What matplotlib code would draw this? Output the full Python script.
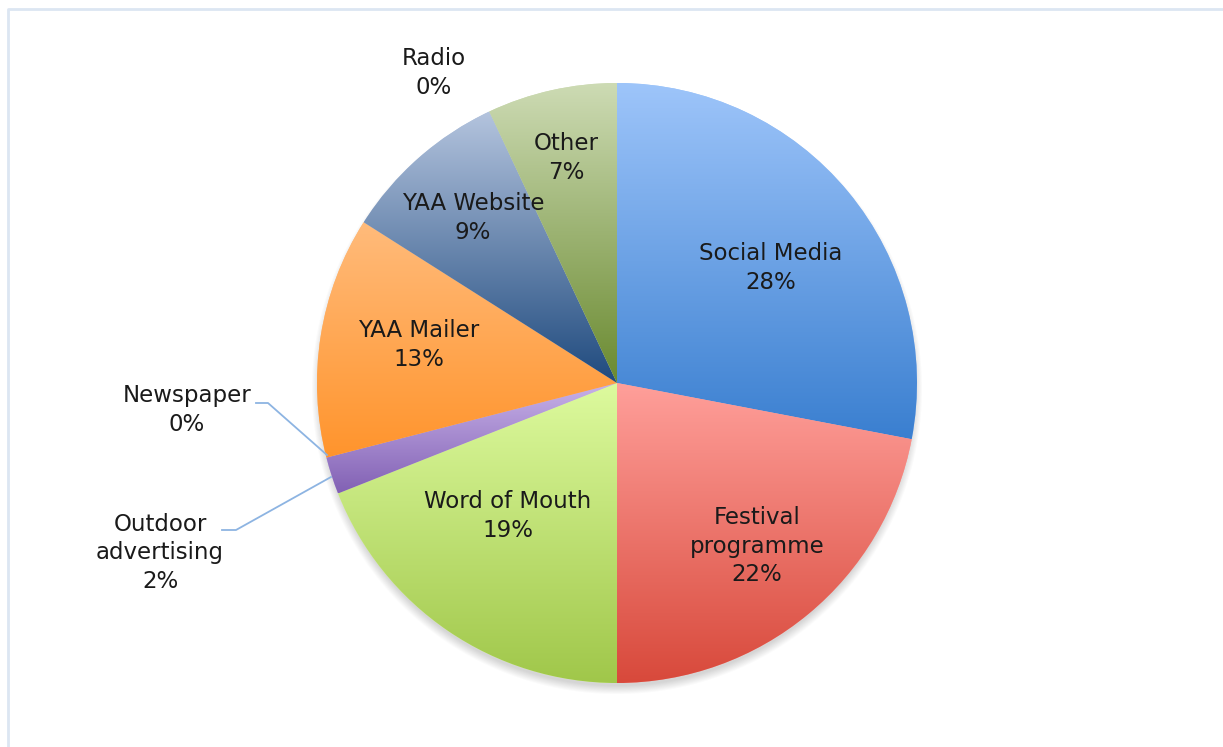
import numpy as np
import matplotlib.pyplot as plt
from matplotlib.colors import LinearSegmentedColormap

# ---------------- Data ----------------
labels = ["Social Media", "Festival\nprogramme", "Word of Mouth", "Outdoor\nadvertising",
          "Newspaper", "YAA Mailer", "YAA Website", "Radio", "Other"]
shares = [28, 22, 19, 2, 0, 13, 9, 0, 7]

# gradient colours per slice (light top -> dark bottom)
top_colors = ["#9ec5fa", "#ff9f9a", "#ddfa9e", "#c8b2e9", "#93d8ea",
              "#ffbb7b", "#b4c4de", "#f2b8d8", "#cddbb4"]
bottom_colors = ["#3a7fd0", "#d8493b", "#a0c74a", "#8261b4", "#2f9ec0",
                 "#ff942c", "#1f4a7e", "#c0508a", "#6a8a30"]

# label centres in pixel coords (y measured from the top)
label_xy = [(771, 268), (757, 546), (508, 516), (160, 553), (187, 410),
            (419, 345), (473, 218), (434, 73), (566, 158)]

W, H = 1223, 747
CX, CY, R = 617, H - 383, 300

plt.rcParams.update({"font.family": "DejaVu Sans"})

fig = plt.figure(figsize=(W / 100, H / 100), dpi=100)
ax = fig.add_axes([0, 0, 1, 1])

# soft drop shadow under the pie, mostly showing along the bottom edge
gx, gy = np.meshgrid(np.arange(CX - R - 20, CX + R + 20),
                     np.arange(CY - R - 25, CY + R + 20))
d = np.hypot(gx - CX, gy - (CY - 6))
alpha = np.clip(1 - (d - R + 3) / 9, 0, 1) * 0.3
shadow = np.zeros(gx.shape + (4,))
shadow[..., :3] = 0.45
shadow[..., 3] = alpha
ax.imshow(shadow, extent=(gx.min(), gx.max(), gy.min(), gy.max()),
          origin="lower", zorder=0.5, interpolation="bilinear")

wedges, _ = ax.pie(shares, center=(CX, CY), radius=R, startangle=90,
                   counterclock=False, colors=top_colors,
                   wedgeprops=dict(linewidth=0))

# vertical gradient fill clipped to each wedge
grad = np.linspace(0, 1, 256).reshape(-1, 1)
for w, c0, c1 in zip(wedges, top_colors, bottom_colors):
    if abs(w.theta2 - w.theta1) < 1e-6:
        continue
    ext = w.get_path().get_extents()
    cmap = LinearSegmentedColormap.from_list("slice", [c1, c0])
    im = ax.imshow(grad, cmap=cmap, extent=(ext.x0, ext.x1, ext.y0, ext.y1),
                   origin="lower", aspect="auto", zorder=2,
                   interpolation="bilinear")
    im.set_clip_path(w)

# data labels
for lab, val, (x, y) in zip(labels, shares, label_xy):
    ax.text(x, H - y, f"{lab}\n{val}%", ha="center", va="center",
            fontsize=16.5, color="#1a1a1a", linespacing=1.32, zorder=5)

# leader lines for the tiny slices
lc = "#8db4e2"
ax.plot([256, 268, 327], [H - 403, H - 403, H - 455], color=lc, lw=1.3, zorder=4)
ax.plot([222, 236, 331], [H - 530, H - 530, H - 477], color=lc, lw=1.3, zorder=4)

# chart area border
ax.plot([8, 8, W], [0, H - 9, H - 9], color="#dce6f2", lw=2, zorder=1)

ax.set_xlim(0, W)
ax.set_ylim(0, H)
ax.set_aspect("auto")
ax.axis("off")

fig.savefig("out.png", dpi=100, facecolor="white")
